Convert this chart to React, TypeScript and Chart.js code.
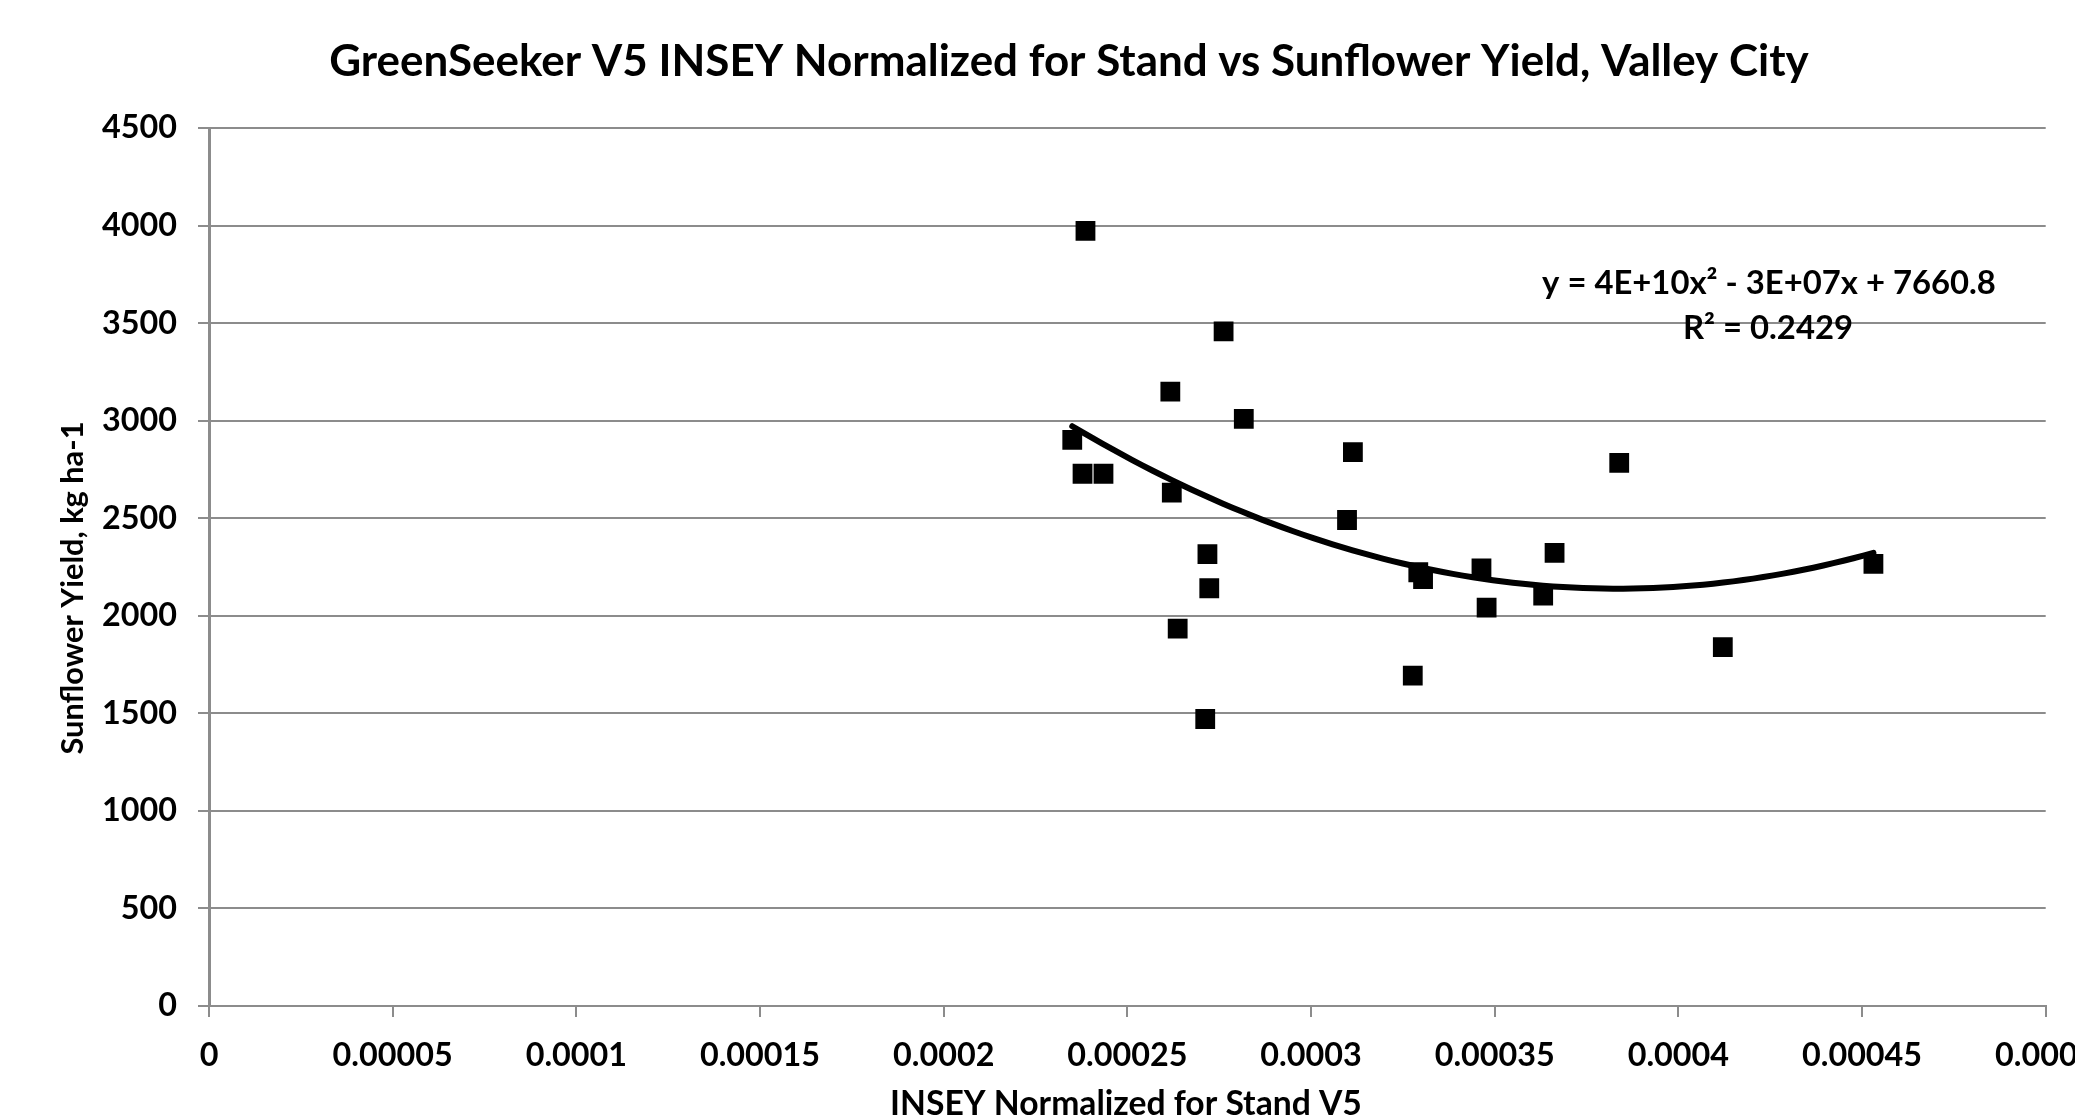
import { useEffect, useRef } from 'react';
import { Chart, registerables } from 'chart.js';

Chart.register(...registerables);

// ---- data ----
const insey: number[] = [
  0.0002386, 0.0002762, 0.0002617, 0.0002817, 0.000235, 0.0002378, 0.0002435, 0.0002621,
  0.0003114, 0.0003098, 0.0003839, 0.0002718, 0.0002723, 0.0002637, 0.0002712, 0.0003277,
  0.0003292, 0.0003305, 0.0003464, 0.0003478, 0.0003663, 0.0003632, 0.0004121, 0.0004531,
];
const yieldKg: number[] = [
  3973, 3458, 3149, 3009, 2902, 2728, 2728, 2631,
  2839, 2491, 2784, 2316, 2141, 1934, 1471, 1693,
  2223, 2188, 2243, 2042, 2322, 2103, 1839, 2266,
];
const yTickValues: number[] = [0, 500, 1000, 1500, 2000, 2500, 3000, 3500, 4000, 4500];
const yTickLabels: string[] = ['0', '500', '1000', '1500', '2000', '2500', '3000', '3500', '4000', '4500'];
const xTickValues: number[] = [0, 0.00005, 0.0001, 0.00015, 0.0002, 0.00025, 0.0003, 0.00035, 0.0004, 0.00045, 0.0005];
const xTickLabels: string[] = ['0', '0.00005', '0.0001', '0.00015', '0.0002', '0.00025', '0.0003', '0.00035', '0.0004', '0.00045', '0.0005'];

const titleText = 'GreenSeeker V5 INSEY Normalized for Stand vs Sunflower Yield, Valley City';
const xTitleText = 'INSEY Normalized for Stand V5';
const yTitleText = 'Sunflower Yield, kg ha-1';
const eqLine1 = 'y = 4E+10x\u00B2 - 3E+07x + 7660.8';
const eqLine2 = 'R\u00B2 = 0.2429';

// least-squares 2nd order polynomial (Excel style trendline)
function quadFit(xs: number[], ys: number[]) {
  const sc = 1e4;
  const S = [0, 0, 0, 0, 0];
  const T = [0, 0, 0];
  xs.forEach((x, i) => {
    const u = x * sc;
    for (let k = 0; k < 5; k++) S[k] += Math.pow(u, k);
    for (let k = 0; k < 3; k++) T[k] += ys[i] * Math.pow(u, k);
  });
  const M = [
    [S[0], S[1], S[2], T[0]],
    [S[1], S[2], S[3], T[1]],
    [S[2], S[3], S[4], T[2]],
  ];
  for (let c = 0; c < 3; c++) {
    for (let r = c + 1; r < 3; r++) {
      const f = M[r][c] / M[c][c];
      for (let k = c; k < 4; k++) M[r][k] -= f * M[c][k];
    }
  }
  const coef = [0, 0, 0];
  for (let r = 2; r >= 0; r--) {
    let s = M[r][3];
    for (let k = r + 1; k < 3; k++) s -= M[r][k] * coef[k];
    coef[r] = s / M[r][r];
  }
  return (x: number) => {
    const u = x * sc;
    return coef[0] + coef[1] * u + coef[2] * u * u;
  };
}

const FAMILY = 'Lato, "Open Sans", "DejaVu Sans", sans-serif';

function fitSize(text: string, width: number): number {
  const c = document.createElement('canvas').getContext('2d')!;
  c.font = `bold 100px ${FAMILY}`;
  return (100 * width) / c.measureText(text).width;
}

export default function App() {
  const ref = useRef<HTMLCanvasElement>(null);

  useEffect(() => {
    const canvas = ref.current!;
    const f = quadFit(insey, yieldKg);
    const minX = Math.min(...insey);
    const maxX = Math.max(...insey);
    const trend: { x: number; y: number }[] = [];
    const N = 80;
    for (let i = 0; i <= N; i++) {
      const x = minX + ((maxX - minX) * i) / N;
      trend.push({ x, y: f(x) });
    }
    const points = insey.map((x, i) => ({ x, y: yieldKg[i] }));

    const tickSize = fitSize('4500', 75);
    const titleSize = fitSize(titleText, 1480);
    const xTitleSize = fitSize(xTitleText, 472);
    const yTitleSize = fitSize(yTitleText, 333);
    const eqSize = fitSize(eqLine1, 454);

    const gridColor = '#8c8c8c';

    const textPlugin = {
      id: 'texts',
      afterDraw(chart: any) {
        const ctx = chart.ctx as CanvasRenderingContext2D;
        ctx.save();
        ctx.fillStyle = '#000';
        ctx.textAlign = 'center';
        ctx.textBaseline = 'middle';
        ctx.font = `bold ${titleSize}px ${FAMILY}`;
        ctx.fillText(titleText, 1069, 62);
        ctx.font = `bold ${xTitleSize}px ${FAMILY}`;
        ctx.fillText(xTitleText, 1126, 1104);
        ctx.font = `bold ${eqSize}px ${FAMILY}`;
        ctx.fillText(eqLine1, 1769, 283);
        ctx.fillText(eqLine2, 1768, 328);
        ctx.translate(73, 588);
        ctx.rotate(-Math.PI / 2);
        ctx.font = `bold ${yTitleSize}px ${FAMILY}`;
        ctx.fillText(yTitleText, 0, 0);
        ctx.restore();
      },
    };

    const chart = new Chart(canvas, {
      type: 'scatter',
      data: {
        datasets: [
          {
            type: 'line',
            label: 'Poly. trend',
            data: trend,
            borderColor: '#000',
            borderWidth: 6,
            pointRadius: 0,
            showLine: true,
            fill: false,
            tension: 0,
            borderCapStyle: 'round',
            order: 0,
          } as any,
          {
            label: 'Yield',
            data: points,
            pointStyle: 'rect',
            pointRadius: 14,
            pointBackgroundColor: '#000',
            pointBorderWidth: 0,
            backgroundColor: '#000',
            borderColor: '#000',
            borderWidth: 0,
            order: 1,
          },
        ],
      },
      options: {
        responsive: false,
        animation: false,
        devicePixelRatio: 1,
        layout: { padding: { top: 128, left: 0, right: 55, bottom: 0 } },
        plugins: {
          legend: { display: false },
          tooltip: { enabled: false },
          title: { display: false },
        },
        scales: {
          x: {
            type: 'linear',
            min: 0,
            max: 0.0005,
            afterBuildTicks: (scale: any) => {
              scale.ticks = xTickValues.map((v) => ({ value: v }));
            },
            afterFit: (scale: any) => {
              scale.height = 114;
            },
            ticks: {
              autoSkip: false,
              maxRotation: 0,
              minRotation: 0,
              color: '#000',
              font: { family: FAMILY, size: tickSize, weight: 'bold' },
              padding: 1056 - 1006 - 11 - (tickSize * 1.2) / 2,
              callback: (_v: any, i: number) => xTickLabels[i],
            },
            grid: {
              drawOnChartArea: false,
              drawTicks: true,
              tickLength: 11,
              color: gridColor,
              lineWidth: 2,
            },
            border: { display: true, color: gridColor, width: 2 },
          },
          y: {
            type: 'linear',
            min: 0,
            max: 4500,
            afterBuildTicks: (scale: any) => {
              scale.ticks = yTickValues.map((v) => ({ value: v }));
            },
            afterFit: (scale: any) => {
              scale.width = 209;
            },
            ticks: {
              autoSkip: false,
              color: '#000',
              font: { family: FAMILY, size: tickSize, weight: 'bold' },
              padding: 21,
              callback: (_v: any, i: number) => yTickLabels[i],
            },
            grid: {
              drawOnChartArea: true,
              drawTicks: true,
              tickLength: 11,
              color: gridColor,
              lineWidth: 2,
            },
            border: { display: true, color: gridColor, width: 3 },
          },
        },
      },
      plugins: [textPlugin],
    });

    return () => chart.destroy();
  }, []);

  return (
    <div
      style={{
        position: 'fixed',
        left: 0,
        top: 0,
        width: 2075,
        height: 1120,
        overflow: 'hidden',
        background: '#fff',
      }}
    >
      <canvas ref={ref} width={2116} height={1120} style={{ display: 'block' }} />
    </div>
  );
}
